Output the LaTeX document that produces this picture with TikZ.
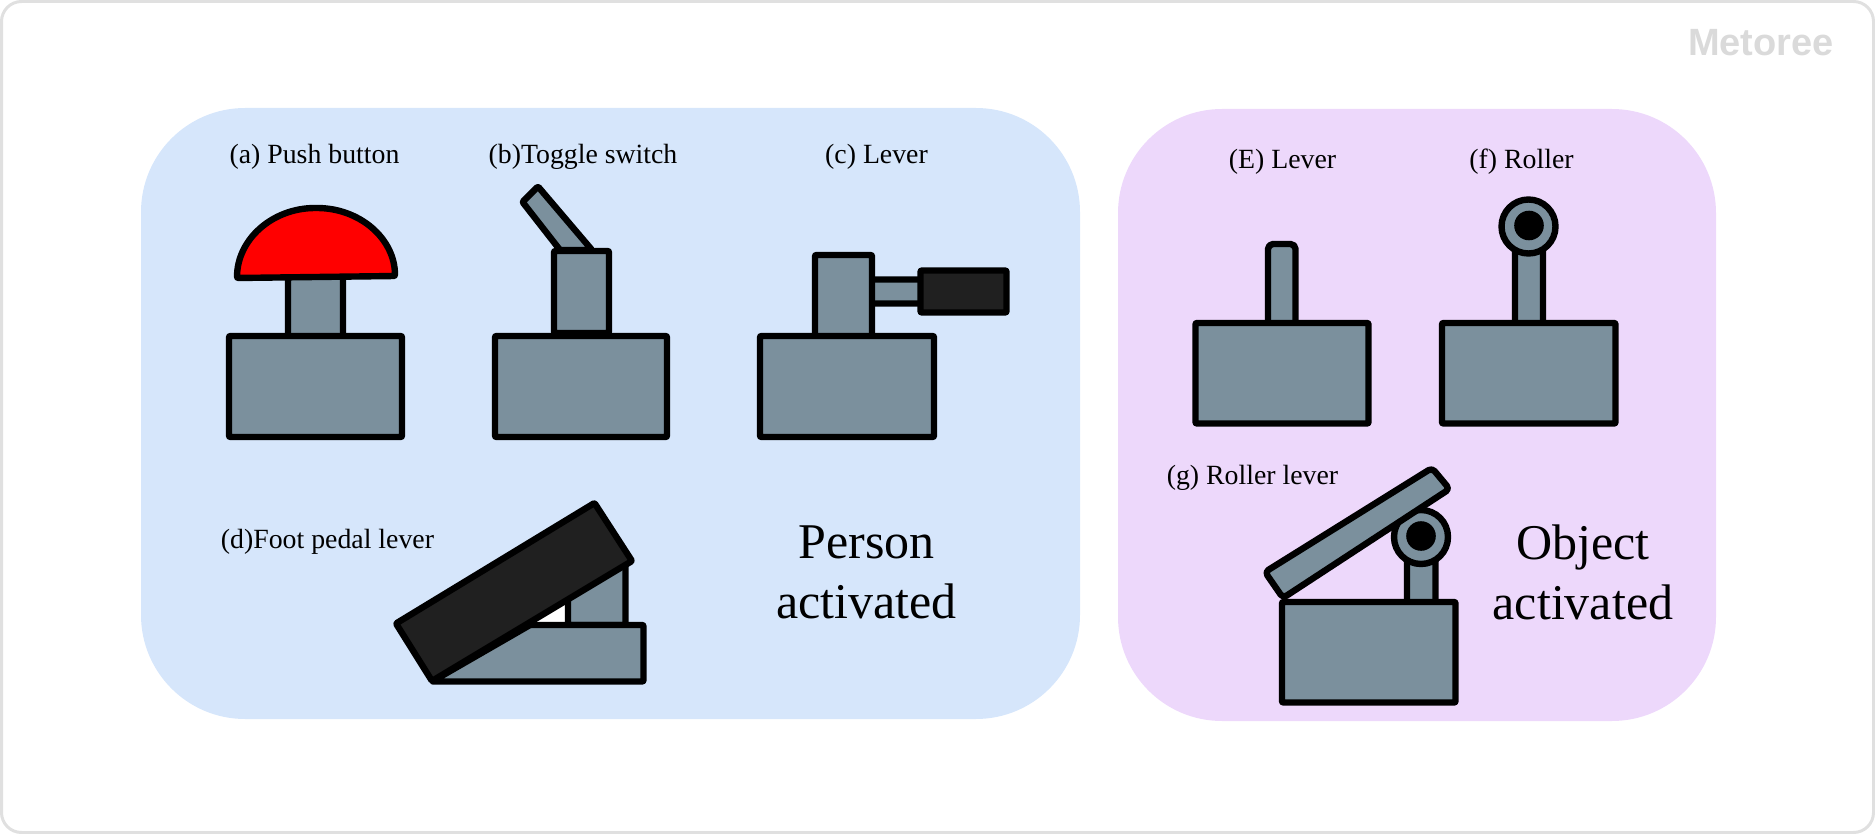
\documentclass[tikz,border=0pt]{standalone}
\usepackage{fontspec}
\setmainfont{Liberation Serif}
\newfontfamily\logofont{Liberation Sans}
\definecolor{panelblue}{HTML}{D6E6FB}
\definecolor{panelpurple}{HTML}{EDD8FB}
\definecolor{partgrey}{HTML}{7B909D}
\definecolor{pedalblack}{HTML}{202020}
\definecolor{frameline}{HTML}{E0E0E0}
\definecolor{logogrey}{HTML}{DADADA}

\begin{document}
\begin{tikzpicture}[
    x=0.5pt, y=-0.5pt,
    panel/.style={rounded corners=52pt},
    part/.style={draw=black, line width=3.2pt, fill=partgrey, rounded corners=0.5pt, line join=round},
    darkpart/.style={part, fill=pedalblack},
    redpart/.style={part, fill=red},
    hub/.style={draw=black, line width=3.2pt, fill=partgrey, circle, minimum size=27pt, inner sep=0pt},
    pin/.style={fill=black, circle, minimum size=14.8pt, inner sep=0pt},
    tag/.style={font=\fontsize{13.9}{16}\selectfont, inner sep=0pt},
    bigtag/.style={font=\fontsize{25}{30}\selectfont, align=center, inner sep=0pt}
]
    \useasboundingbox (0,0) rectangle (1875,834);
    \draw[frameline, line width=1.5pt, rounded corners=10pt] (1.5,1.5) rectangle (1873.5,832.5);
    \node[font=\logofont\bfseries\fontsize{19}{19}\selectfont, text=logogrey, inner sep=0pt] (logo) at (1761,43) {Metoree};

    \fill[panelblue, panel] (141,108) rectangle (1080,719);
    \fill[panelpurple, panel] (1118,109) rectangle (1716,721);

    \node[tag] (taga) at (314.5,156.5) {(a) Push button};
    \node[tag] (tagb) at (583,156.5) {(b)Toggle switch};
    \node[tag] (tagc) at (876.5,156.5) {(c) Lever};
    \node[tag] (tagd) at (327.5,542) {(d)Foot pedal lever};
    \node[tag] (tage) at (1282.5,161.5) {(E) Lever};
    \node[tag] (tagf) at (1521.5,161.5) {(f) Roller};
    \node[tag] (tagg) at (1252.5,477.5) {(g) Roller lever};
    \node[bigtag] (person) at (866.5,572) {Person\\activated};
    \node[bigtag] (object) at (1583,572) {Object\\activated};

    % push button
    \draw[part] (288,270) rectangle (343,337);
    \draw[redpart] (237,278) arc (180:270:79 and 70) arc (270:360:79 and 68) -- cycle;
    \draw[part] (229,336) rectangle (402,437);

    % toggle switch
    \draw[part] (538,186.5) -- (522.5,202) -- (560,250) -- (592,250) -- cycle;
    \draw[part] (554,251) rectangle (609,333);
    \draw[part] (495,336) rectangle (667,437);

    % hand lever
    \draw[part] (870,279.5) rectangle (925,303.5);
    \draw[darkpart] (920.5,270.5) rectangle (1006.5,312.5);
    \draw[part] (815,255) rectangle (872,337);
    \draw[part] (760,336) rectangle (934,437);

    % foot pedal
    \fill[white] (530,625) -- (568,625) -- (568,600) -- cycle;
    \draw[part] (568,625) -- (568,590) -- (625.5,560) -- (625.5,625) -- cycle;
    \draw[part] (432,681.5) -- (530,625) -- (643.5,625) -- (643.5,681.5) -- cycle;
    \draw[darkpart] (594.5,503) -- (632,561) -- (432,681) -- (396,623.5) -- cycle;

    % object lever
    \draw[part, rounded corners=2.5pt] (1268,330) -- (1268,244) -- (1295.5,244) -- (1295.5,330);
    \draw[part] (1195.5,323) rectangle (1368.5,423.5);

    % object roller
    \draw[part] (1515,240) rectangle (1543,330);
    \node[hub] (hubf) at (1528.5,226.5) {};
    \node[pin] (pinf) at (1529,225.5) {};
    \draw[part] (1442,323) rectangle (1615.5,423.5);

    % roller lever
    \draw[part] (1407,550) rectangle (1435.5,610);
    \node[hub] (hubg) at (1421,537) {};
    \node[pin] (ping) at (1421,536) {};
    \draw[part, rounded corners=2pt] (1432,468) -- (1449.5,489) -- (1283,598) -- (1265,572) -- cycle;
    \draw[part] (1282,602) rectangle (1455.5,702.5);
\end{tikzpicture}
\end{document}
